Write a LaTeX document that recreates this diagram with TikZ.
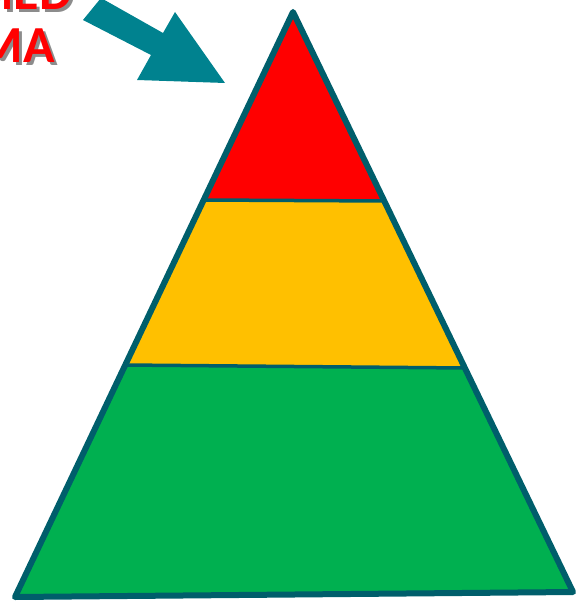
\documentclass[tikz,border=0pt]{standalone}
\usepackage{fontspec}
\setmainfont{Carlito}
\usepackage{tikz}
\usetikzlibrary{calc}

\definecolor{tealline}{RGB}{0,94,107}
\definecolor{tealarrow}{RGB}{0,130,143}
\definecolor{topred}{RGB}{255,0,0}
\definecolor{midyellow}{RGB}{255,192,0}
\definecolor{basegreen}{RGB}{0,176,80}

% red word with a grey shadow behind it
\newcommand{\shadowed}[1]{\makebox[0pt][l]{\hspace{3pt}\raisebox{-2.5pt}{\color{black!45}#1}}#1}

\begin{document}
\begin{tikzpicture}[
    x=1pt, y=-1pt,
    outline/.style={draw=tealline, line width=6pt, line join=round},
    divider/.style={draw=tealline, line width=3.5pt},
    title/.style={font=\bfseries\fontsize{52}{60}\selectfont, text=topred, inner sep=0pt, anchor=base east}
]
\useasboundingbox (0,0) rectangle (577,601);
\clip (0,0) rectangle (577,601);

% --- Pyramid corners ---
\coordinate (apex) at (293,12);
\coordinate (bl) at (15,597);
\coordinate (br) at (573,592);
\coordinate (rl) at (204,200);
\coordinate (rr) at (384,201);
\coordinate (yl) at (124,365);
\coordinate (yr) at (465,368);

% --- Bands ---
\fill[basegreen] (yl) -- (yr) -- (br) -- (bl) -- cycle;
\fill[midyellow] (rl) -- (rr) -- (yr) -- (yl) -- cycle;
\fill[topred] (apex) -- (rr) -- (rl) -- cycle;

% --- Outline ---
\draw[divider] (rl) -- (rr);
\draw[divider] (yl) -- (yr);
\draw[outline] (apex) -- (br) -- (bl) -- cycle;

% --- Arrow ---
\fill[tealarrow] (101,-2) -- (163,33) -- (175,12) -- (225,83)
    -- (137,80) -- (151,55) -- (83,20) -- cycle;

% --- Title (cut by the border) ---
\node[title] (t1) at (72,10) {\shadowed{MED}};
\node[title] (t2) at (55,63) {\shadowed{MA}};

\end{tikzpicture}
\end{document}
